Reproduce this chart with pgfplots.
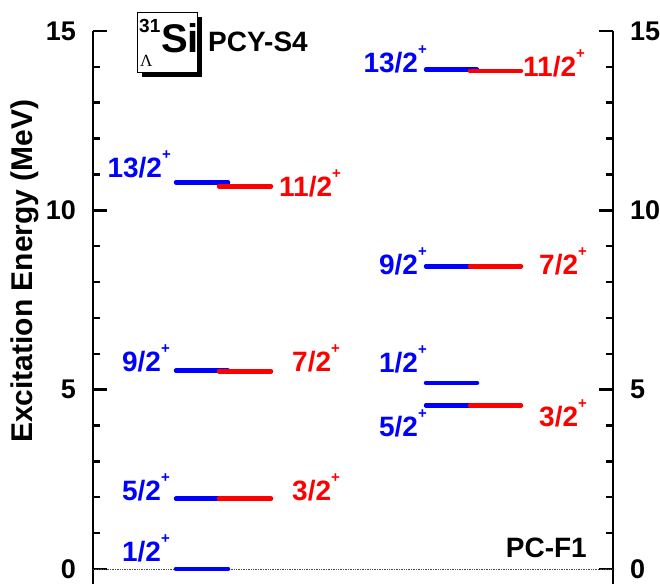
\documentclass[border=0pt]{standalone}
\usepackage{fontspec}
\setmainfont{Liberation Sans}
\newfontfamily\seriffont{Liberation Serif}
\usepackage{pgfplots}
\pgfplotsset{compat=1.18}
\newcommand{\psup}{\raisebox{18pt}{\fontsize{15}{15}\selectfont\bfseries +}}
\begin{document}
\begin{tikzpicture}
\path[use as bounding box] (-93pt,0pt) rectangle (567pt,584pt);
\pgfplotsset{
  levax/.style={
    at={(0pt,0pt)}, anchor=south west, scale only axis,
    width=520pt, height=553pt,
    xmin=0, xmax=520, ymin=-0.42, ymax=15,
    axis x line=none,
    ytick={0,5,10,15},
    minor ytick={1,2,3,4,6,7,8,9,11,12,13,14},
    tick align=inside,
    major tick length=14pt, minor tick length=7pt,
    tick style={black, line width=2.5pt},
    major tick style={black, line width=2.5pt},
    minor tick style={black, line width=2.5pt},
    axis line style={line width=2.8pt, black},
    /pgf/number format/assume math mode=true,
    clip=false,
  }
}
\begin{axis}[levax, axis y line*=right,
  yticklabel style={font=\fontsize{27}{27}\selectfont\bfseries, anchor=west, inner sep=0pt, xshift=17pt}]
\end{axis}
\begin{axis}[levax, axis y line*=left,
  yticklabel style={font=\fontsize{27}{27}\selectfont\bfseries, anchor=east, inner sep=0pt, xshift=-17pt}]
% zero line
\addplot[black!70, densely dotted, line width=0.7pt] coordinates {(0,0) (520,0)};
% left group (PCY-S4): blue
\addplot[blue, line width=4.5pt, line cap=round] coordinates {(83,0) (135,0)};
\addplot[blue, line width=4.5pt, line cap=round] coordinates {(83,1.96) (135,1.96)};
\addplot[blue, line width=4.5pt, line cap=round] coordinates {(83,5.53) (135,5.53)};
\addplot[blue, line width=4.5pt, line cap=round] coordinates {(83,10.78) (135,10.78)};
% left group red
\addplot[red, line width=4.5pt, line cap=round] coordinates {(126,1.96) (178,1.96)};
\addplot[red, line width=4.5pt, line cap=round] coordinates {(126,5.51) (178,5.51)};
\addplot[red, line width=4.5pt, line cap=round] coordinates {(126,10.67) (178,10.67)};
% right group (PC-F1): blue
\addplot[blue, line width=4.5pt, line cap=round] coordinates {(333,4.56) (384,4.56)};
\addplot[blue, line width=4.5pt, line cap=round] coordinates {(333,5.19) (384,5.19)};
\addplot[blue, line width=4.5pt, line cap=round] coordinates {(333,8.44) (384,8.44)};
\addplot[blue, line width=4.5pt, line cap=round] coordinates {(333,13.92) (384,13.92)};
% right group red
\addplot[red, line width=4.5pt, line cap=round] coordinates {(377,4.56) (428,4.56)};
\addplot[red, line width=4.5pt, line cap=round] coordinates {(377,8.44) (428,8.44)};
\addplot[red, line width=4.5pt, line cap=round] coordinates {(377,13.88) (428,13.88)};
% labels
\begin{scope}[every node/.style={font=\fontsize{28}{28}\selectfont\bfseries, inner sep=0pt}]
\node[blue, anchor=base east] at (axis cs:78,10.92) {13/2\psup};
\node[blue, anchor=base east] at (axis cs:77,5.50) {9/2\psup};
\node[blue, anchor=base east] at (axis cs:77,1.90) {5/2\psup};
\node[blue, anchor=base east] at (axis cs:77,0.20) {1/2\psup};
\node[blue, anchor=base east] at (axis cs:334,13.85) {13/2\psup};
\node[blue, anchor=base east] at (axis cs:334,8.21) {9/2\psup};
\node[blue, anchor=base east] at (axis cs:334,5.47) {1/2\psup};
\node[blue, anchor=base east] at (axis cs:334,3.69) {5/2\psup};
\node[red, anchor=base west] at (axis cs:186,10.39) {11/2\psup};
\node[red, anchor=base west] at (axis cs:199,5.50) {7/2\psup};
\node[red, anchor=base west] at (axis cs:199,1.90) {3/2\psup};
\node[red, anchor=base west] at (axis cs:430,13.74) {11/2\psup};
\node[red, anchor=base west] at (axis cs:446,8.21) {7/2\psup};
\node[red, anchor=base west] at (axis cs:446,3.97) {3/2\psup};
\node[black, anchor=base west] at (axis cs:115,14.42) {PCY-S4};
\node[black, anchor=base east] at (axis cs:494,0.33) {PC-F1};
\end{scope}
\node[rotate=90, anchor=center, font=\fontsize{30}{30}\selectfont\bfseries] at (axis cs:-68,8.30) {Excitation Energy (MeV)};
\end{axis}
% nucleus box with shadow
\fill[black] (49pt,507pt) rectangle (109pt,567pt);
\draw[fill=white, line width=0.8pt] (44pt,512pt) rectangle (104pt,572pt);
\node[anchor=base west, inner sep=0pt, font=\fontsize{40}{40}\selectfont\bfseries] at (68pt,531pt) {Si};
\node[anchor=base west, inner sep=0pt, font=\fontsize{19}{19}\selectfont\bfseries] at (46pt,551pt) {31};
\node[anchor=base west, inner sep=0pt, font=\fontsize{17}{17}\selectfont\seriffont] at (47pt,517pt) {Λ};
\end{tikzpicture}
\end{document}
